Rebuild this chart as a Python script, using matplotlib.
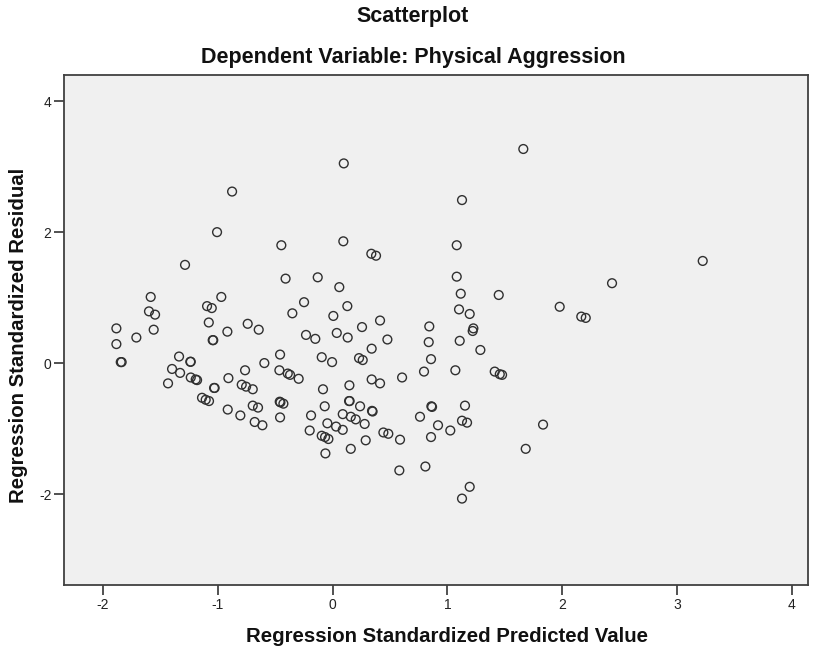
import numpy as np
import matplotlib
matplotlib.use("Agg")
import matplotlib.pyplot as plt

plt.rcParams["font.family"] = ["Liberation Sans", "DejaVu Sans"]
plt.rcParams["axes.unicode_minus"] = False

# standardized predicted values vs standardized residuals
pred = [
    -0.876, -1.007, -1.286, -0.447, -0.410, -0.130, 0.097, 0.093, -1.585, -1.600,
    -1.547, -1.094, -1.053, -0.970, -1.079, -0.249, -0.351, 0.006, 0.058,
    1.661, 1.127, 1.081, 0.337, 0.378, 0.128, 0.413, 1.081, 1.116, 1.447,
    1.101, 1.194, 1.978, 2.166, 2.205, 2.434, 3.224, 0.256, 0.842, 1.226,
    -1.884, -1.884, -1.710, -1.559, -1.846, -1.838, -1.045, -1.040, -0.917, -0.740,
    -0.644, -1.338, -1.399, -1.329, -1.434, -1.240, -1.236, -1.236, -1.193, -1.181,
    -1.033, -1.028, -1.138, -1.106, -1.077, -0.908, -0.763, -0.595, -0.458, -0.464,
    -0.391, -0.371, -0.296, -0.792, -0.754, -0.696, -0.914, -0.804, -0.696, -0.650,
    -0.679, -0.612, -0.461, -0.455, -0.429, -0.458, -0.232, -0.151, 0.036, -0.095,
    -0.005, -0.084, -0.069, -0.188, -0.200, -0.095, -0.066, -0.037, -0.063, -0.046,
    0.030, 0.131, 0.477, 0.340, 0.230, 0.262, 0.605, 0.340, 0.413, 0.146,
    0.143, 0.148, 0.239, 0.343, 0.348, 0.088, 0.158, 0.201, 0.279, 0.088,
    0.288, 0.158, 0.442, 0.485, 0.587, 0.581, 0.808, 0.837, 0.857, 0.796,
    1.069, 1.107, 1.220, 1.287, 1.412, 1.456, 1.476, 0.860, 0.866, 0.761,
    1.153, 0.918, 1.127, 1.171, 1.025, 0.857, 1.833, 1.682, 1.194, 1.127,
]
resid = [
    2.62, 2.00, 1.50, 1.80, 1.29, 1.31, 3.05, 1.86, 1.01, 0.79,
    0.74, 0.87, 0.84, 1.01, 0.62, 0.93, 0.76, 0.72, 1.16,
    3.27, 2.49, 1.80, 1.67, 1.64, 0.87, 0.65, 1.32, 1.06, 1.04,
    0.82, 0.75, 0.86, 0.71, 0.69, 1.22, 1.56, 0.55, 0.56, 0.53,
    0.53, 0.29, 0.39, 0.51, 0.015, 0.015, 0.35, 0.35, 0.48, 0.60,
    0.51, 0.10, -0.09, -0.15, -0.31, 0.02, 0.02, -0.22, -0.25, -0.26,
    -0.38, -0.38, -0.53, -0.56, -0.58, -0.23, -0.11, 0.00, 0.13, -0.11,
    -0.16, -0.18, -0.24, -0.33, -0.36, -0.40, -0.71, -0.80, -0.65, -0.68,
    -0.90, -0.95, -0.59, -0.60, -0.62, -0.83, 0.43, 0.37, 0.46, 0.09,
    0.015, -0.40, -0.66, -0.80, -1.03, -1.11, -1.13, -1.16, -1.38, -0.92,
    -0.97, 0.39, 0.36, 0.22, 0.076, 0.046, -0.22, -0.25, -0.31, -0.34,
    -0.58, -0.58, -0.66, -0.73, -0.74, -0.78, -0.82, -0.86, -0.93, -1.02,
    -1.18, -1.31, -1.06, -1.08, -1.17, -1.64, -1.58, 0.32, 0.06, -0.13,
    -0.11, 0.34, 0.49, 0.20, -0.13, -0.17, -0.18, -0.66, -0.67, -0.82,
    -0.65, -0.95, -0.88, -0.91, -1.03, -1.13, -0.94, -1.31, -1.89, -2.07,
]

x_ticks = [-2, -1, 0, 1, 2, 3, 4]
y_ticks = [-2, 0, 2, 4]

fig = plt.figure(figsize=(8.21, 6.49), dpi=100)
ax = fig.add_axes([0.078, 0.0986, 0.906, 0.7858])
ax.set_facecolor("#f0f0f0")

ax.scatter(pred, resid, s=40, facecolors="none", edgecolors="#303030", linewidths=1.0)

ax.set_xlim(-2.34, 4.14)
ax.set_ylim(-3.39, 4.40)
ax.set_xticks(x_ticks)
ax.set_yticks(y_ticks)
ax.tick_params(direction="out", length=7, width=1.2, color="#333333",
               labelsize=10, pad=2, labelcolor="#222222")
for sp in ax.spines.values():
    sp.set_color("#404040")
    sp.set_linewidth(1.3)

fig.text(0.545, 0.0185, "Regression Standardized Predicted Value", ha="center", va="center",
         fontsize=14.7, fontweight="bold", color="#111111")
fig.text(0.022, 0.484, "Regression Standardized Residual", ha="center", va="center",
         rotation=90, fontsize=14.7, fontweight="bold", color="#111111")

fig.text(0.503, 0.974, "Scatterplot", ha="center", va="center", fontsize=15.5,
         fontweight="bold", color="#111111")
fig.text(0.503, 0.912, "Dependent Variable: Physical Aggression", ha="center", va="center",
         fontsize=15.5, fontweight="bold", color="#111111")

fig.savefig("out.png", dpi=100)
